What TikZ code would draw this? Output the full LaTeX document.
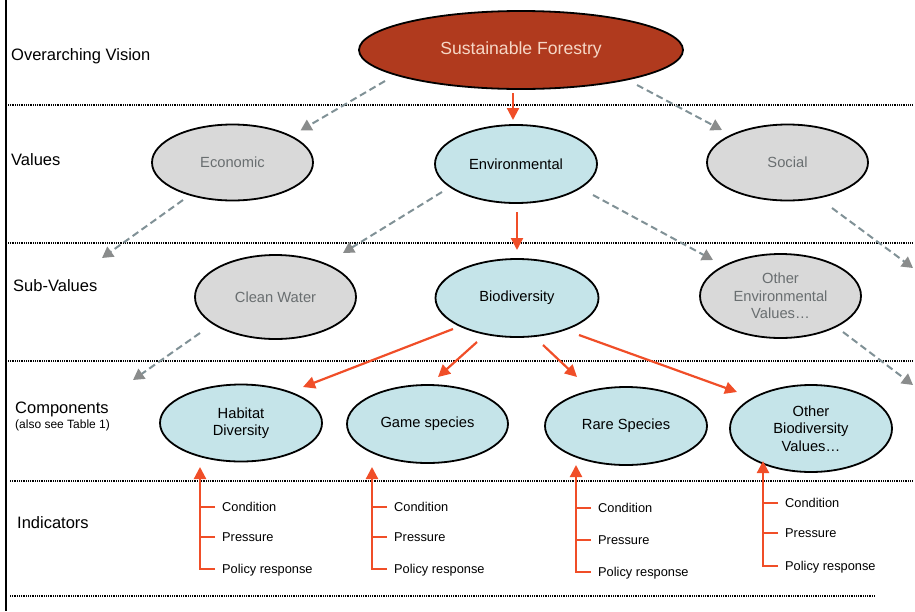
\documentclass[tikz,border=0pt]{standalone}
\usepackage{fontspec}
\setmainfont{Liberation Sans}
\usetikzlibrary{shapes.geometric,arrows.meta}
\definecolor{sfred}{RGB}{176,58,30}
\definecolor{sftext}{RGB}{246,215,198}
\definecolor{bluefill}{RGB}{197,228,233}
\definecolor{grayfill}{RGB}{217,217,217}
\definecolor{graytext}{RGB}{105,110,112}
\definecolor{arrowred}{RGB}{240,78,40}
\definecolor{dashgray}{RGB}{128,145,150}
\definecolor{headgray}{RGB}{138,140,140}
\begin{document}
\begin{tikzpicture}[x=1pt,y=-1pt,
  ell/.style={ellipse, draw=black, line width=1.8pt, inner sep=0pt, align=center,
    font=\fontsize{14.7}{17.5}\selectfont},
  bluee/.style={ell, fill=bluefill, text=black},
  graye/.style={ell, fill=grayfill, text=graytext},
  lbl/.style={anchor=base west, inner sep=0pt, font=\fontsize{16.5}{19}\selectfont},
  sublbl/.style={anchor=base west, inner sep=0pt, font=\fontsize{12}{14}\selectfont},
  ind/.style={anchor=west, inner sep=0pt, text height=9.2pt, text depth=0pt,
    font=\fontsize{12.8}{15}\selectfont},
  sepline/.style={line width=1.4pt, dash pattern=on 1pt off 0.8pt},
  dasharrow/.style={draw=dashgray, line width=2pt, dash pattern=on 7pt off 4pt,
    -{Triangle[length=11pt,width=12pt,color=headgray]}},
  redarrow/.style={draw=arrowred, line width=2.2pt, -{Triangle[length=12pt,width=12pt]}},
  redline/.style={draw=arrowred, line width=2.2pt}]
\useasboundingbox (0,0) rectangle (915,611);

% left vertical rule
\draw[line width=2pt] (6,0) -- (6,611);
% separators
\draw[sepline] (8,105) -- (912,105);
\draw[sepline] (8,243) -- (912,243);
\draw[sepline] (8,361) -- (912,361);
\draw[sepline] (10,481) -- (912,481);
\draw[sepline] (10,596) -- (875,596);

% row labels
\node[lbl] (lv) at (11,60) {Overarching Vision};
\node[lbl] (lval) at (11,165) {Values};
\node[lbl] (lsub) at (13,291) {Sub-Values};
\node[lbl] (lcomp) at (15,413) {Components};
\node[sublbl] (ltab) at (15,428) {(also see Table 1)};
\node[lbl] (lind) at (17,528) {Indicators};

% ellipses
\node[ell, fill=sfred, text=sftext, minimum width=324pt, minimum height=78pt,
  font=\fontsize{17.6}{20}\selectfont] (sf) at (521,50) {Sustainable Forestry};
\node[graye, minimum width=161pt, minimum height=76pt] (eco) at (232.5,162.5) {Economic};
\node[bluee, minimum width=162pt, minimum height=78pt] (env) at (516,164) {Environmental};
\node[graye, minimum width=161pt, minimum height=76pt] (soc) at (787.5,162.5) {Social};
\node[graye, minimum width=161pt, minimum height=84pt] (cw) at (275.5,297) {Clean Water};
\node[bluee, minimum width=163pt, minimum height=78pt] (bio) at (517,298) {Biodiversity};
\node[graye, minimum width=161pt, minimum height=84pt] (oev) at (780.5,296) {Other\\Environmental\\Values…};
\node[bluee, minimum width=162pt, minimum height=77pt] (hab) at (241,423) {Habitat\\Diversity};
\node[bluee, minimum width=161pt, minimum height=78pt] (game) at (427.5,424) {Game species};
\node[bluee, minimum width=162pt, minimum height=78pt] (rare) at (626,426) {Rare Species};
\node[bluee, minimum width=162pt, minimum height=87pt] (obv) at (811,428.5) {Other\\Biodiversity\\Values…};

% free ends
\coordinate (offA) at (102,258);
\coordinate (offB) at (913,268);
\coordinate (offC) at (133,380);
\coordinate (offD) at (913,385);

% connectors
\draw[dasharrow] ([shift={(-136,31)}]sf.center) -- ([shift={(68,-32)}]eco.center);
\draw[redarrow] ([shift={(-8,43)}]sf.center) -- ([shift={(-3,-44)}]env.center);
\draw[dasharrow] ([shift={(116,35)}]sf.center) -- ([shift={(-65.5,-32.5)}]soc.center);
\draw[dasharrow] ([shift={(-49.5,37.5)}]eco.center) -- (offA);
\draw[dasharrow] ([shift={(-74,28)}]env.center) -- ([shift={(67.5,-44)}]cw.center);
\draw[redarrow] ([shift={(1,48)}]env.center) -- ([shift={(0,-48)}]bio.center);
\draw[dasharrow] ([shift={(77,31)}]env.center) -- ([shift={(-67.5,-36)}]oev.center);
\draw[dasharrow] ([shift={(44.5,45.5)}]soc.center) -- (offB);
\draw[dasharrow] ([shift={(-75.5,36)}]cw.center) -- (offC);
\draw[dasharrow] ([shift={(62.5,36)}]oev.center) -- (offD);
\draw[redarrow] ([shift={(-64,31)}]bio.center) -- ([shift={(62,-36)}]hab.center);
\draw[redarrow] ([shift={(-40,44)}]bio.center) -- ([shift={(10.5,-47)}]game.center);
\draw[redarrow] ([shift={(26,47)}]bio.center) -- ([shift={(-49,-49)}]rare.center);
\draw[redarrow] ([shift={(62,37)}]bio.center) -- ([shift={(-74,-36.5)}]obv.center);

% indicators: Habitat
\node[ind] (hc) at (222,507) {Condition};
\node[ind] (hpr) at (222,537) {Pressure};
\node[ind] (hpo) at (222,569) {Policy response};
\draw[redline] ([xshift=-7pt]hc.west) -- ++(-15,0);
\draw[redline] ([xshift=-7pt]hpr.west) -- ++(-15,0);
\draw[redarrow] ([xshift=-7pt]hpo.west) -- ++(-15,0) -- ([shift={(-41,44)}]hab.center);
% Game
\node[ind] (gc) at (394,507) {Condition};
\node[ind] (gpr) at (394,537) {Pressure};
\node[ind] (gpo) at (394,569) {Policy response};
\draw[redline] ([xshift=-7pt]gc.west) -- ++(-15,0);
\draw[redline] ([xshift=-7pt]gpr.west) -- ++(-15,0);
\draw[redarrow] ([xshift=-7pt]gpo.west) -- ++(-15,0) -- ([shift={(-55.5,43)}]game.center);
% Rare
\node[ind] (rc) at (598,508) {Condition};
\node[ind] (rpr) at (598,540) {Pressure};
\node[ind] (rpo) at (598,572) {Policy response};
\draw[redline] ([xshift=-7pt]rc.west) -- ++(-15,0);
\draw[redline] ([xshift=-7pt]rpr.west) -- ++(-15,0);
\draw[redarrow] ([xshift=-7pt]rpo.west) -- ++(-15,0) -- ([shift={(-50,39)}]rare.center);
% Other biodiversity
\node[ind] (oc) at (785,503) {Condition};
\node[ind] (opr) at (785,533) {Pressure};
\node[ind] (opo) at (785,566) {Policy response};
\draw[redline] ([xshift=-7pt]oc.west) -- ++(-15,0);
\draw[redline] ([xshift=-7pt]opr.west) -- ++(-15,0);
\draw[redarrow] ([xshift=-7pt]opo.west) -- ++(-15,0) -- ([shift={(-48,32.5)}]obv.center);
\end{tikzpicture}
\end{document}
